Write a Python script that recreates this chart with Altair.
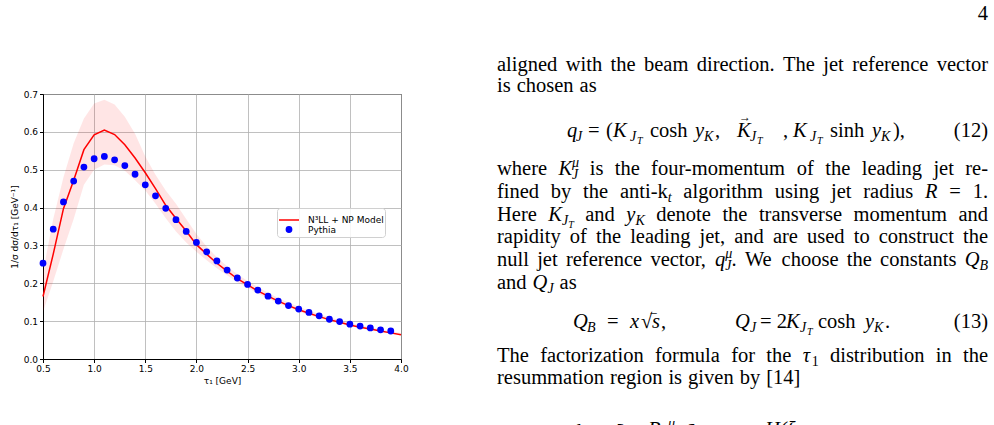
import altair as alt
import pandas as pd

# ---------------------------------------------------------------- data
tau_pythia = [0.5, 0.6, 0.7, 0.8, 0.9, 1.0, 1.1, 1.2, 1.3, 1.4, 1.5, 1.6, 1.7,
              1.8, 1.9, 2.0, 2.1, 2.2, 2.3, 2.4, 2.5, 2.6, 2.7, 2.8, 2.9, 3.0,
              3.1, 3.2, 3.3, 3.4, 3.5, 3.6, 3.7, 3.8, 3.9]
pythia = [0.253, 0.343, 0.415, 0.470, 0.507, 0.529, 0.535, 0.526, 0.511, 0.488,
          0.460, 0.431, 0.398, 0.368, 0.337, 0.308, 0.283, 0.259, 0.235, 0.214,
          0.197, 0.182, 0.166, 0.153, 0.141, 0.132, 0.123, 0.114, 0.105, 0.099,
          0.092, 0.087, 0.082, 0.077, 0.074]

tau_model = [0.5, 0.6, 0.7, 0.8, 0.9, 1.0, 1.1, 1.2, 1.3, 1.4, 1.5, 1.6, 1.7,
             1.8, 1.9, 2.0, 2.1, 2.2, 2.3, 2.4, 2.5, 2.6, 2.7, 2.8, 2.9, 3.0,
             3.1, 3.2, 3.3, 3.4, 3.5, 3.6, 3.7, 3.8, 3.9, 4.0]
model = [0.165, 0.277, 0.397, 0.472, 0.553, 0.592, 0.605, 0.593, 0.566, 0.531,
         0.492, 0.450, 0.406, 0.371, 0.338, 0.302, 0.277, 0.253, 0.232, 0.212,
         0.196, 0.180, 0.166, 0.153, 0.141, 0.130, 0.121, 0.112, 0.104, 0.097,
         0.090, 0.084, 0.079, 0.074, 0.069, 0.064]
model_hi = [0.230, 0.370, 0.480, 0.570, 0.635, 0.675, 0.685, 0.672, 0.640, 0.595,
            0.535, 0.487, 0.445, 0.410, 0.370, 0.330, 0.297, 0.269, 0.245, 0.224,
            0.206, 0.190, 0.175, 0.161, 0.149, 0.138, 0.128, 0.119, 0.110, 0.103,
            0.096, 0.089, 0.084, 0.078, 0.073, 0.069]
model_lo = [0.125, 0.205, 0.290, 0.370, 0.460, 0.500, 0.514, 0.512, 0.497, 0.472,
            0.445, 0.410, 0.372, 0.337, 0.308, 0.283, 0.261, 0.240, 0.221, 0.203,
            0.188, 0.173, 0.160, 0.147, 0.136, 0.125, 0.116, 0.108, 0.100, 0.093,
            0.087, 0.081, 0.076, 0.071, 0.066, 0.062]

MODEL = "N³LL + NP Model"
PYTHIA = "Pythia"
x_ticks = [0.5, 1.0, 1.5, 2.0, 2.5, 3.0, 3.5, 4.0]
y_ticks = [0.0, 0.1, 0.2, 0.3, 0.4, 0.5, 0.6, 0.7]

df_model = pd.DataFrame({"tau": tau_model, "val": model, "lo": model_lo,
                         "hi": model_hi, "series": MODEL})
df_pythia = pd.DataFrame({"tau": tau_pythia, "val": pythia, "series": PYTHIA})

# ---------------------------------------------------------------- plot
PLOT_L, PLOT_T, PLOT_W, PLOT_H = 43, 94, 358, 265
SANS = "DejaVu Sans"

xs = alt.Scale(domain=[0.5, 4.0], nice=False, zero=False)
ys = alt.Scale(domain=[0.0, 0.7], nice=False, zero=False)
common_axis = dict(format=".1f", titleFontWeight="normal", titleFontSize=9,
                   titleFont=SANS, titleColor="black", labelFontSize=9,
                   labelFont=SANS, labelColor="black", labelPadding=2,
                   tickSize=3.5, tickColor="black", domainColor="black",
                   grid=True, gridColor="#b0b0b0", gridWidth=0.8,
                   labelFlush=False, labelOverlap=False)
x_axis = alt.Axis(values=x_ticks, tickCount=len(x_ticks), title="τ₁ [GeV]",
                  titlePadding=3, **common_axis)
y_axis = alt.Axis(values=y_ticks, tickCount=len(y_ticks),
                  title="1/σ dσ/dτ₁ [GeV⁻¹]", titlePadding=4, **common_axis)

series_dom = [MODEL, PYTHIA]
legend = alt.Legend(title=None, orient="none", legendX=234, legendY=114,
                    fillColor="rgba(255,255,255,0.85)", strokeColor="#d0d0d0",
                    cornerRadius=3, padding=1, rowPadding=-5, labelOffset=8,
                    labelFontSize=9, labelFont=SANS, labelColor="black",
                    symbolStrokeWidth=1.5)
color_scale = alt.Scale(domain=series_dom, range=["#ff0000", "#0000ff"])

X = alt.X("tau:Q", scale=xs, axis=x_axis)

band = alt.Chart(df_model).mark_area(color="red", opacity=0.1).encode(
    x=X,
    y=alt.Y("lo:Q", scale=ys, axis=y_axis),
    y2="hi:Q",
)
line = alt.Chart(df_model).mark_line(strokeWidth=1.5).encode(
    x=X,
    y=alt.Y("val:Q", scale=ys, axis=y_axis),
    color=alt.Color("series:N", scale=color_scale, legend=legend),
)
points = alt.Chart(df_pythia).mark_point(filled=False, strokeWidth=1.5,
                                         opacity=1).encode(
    x=X,
    y=alt.Y("val:Q", scale=ys, axis=y_axis),
    color=alt.Color("series:N", scale=color_scale, legend=legend),
    fill=alt.Fill("series:N", scale=color_scale, legend=legend),
    shape=alt.Shape("series:N", scale=alt.Scale(domain=series_dom,
                                                range=["stroke", "circle"]),
                    legend=legend),
    size=alt.Size("series:N", scale=alt.Scale(domain=series_dom,
                                              range=[400, 28]),
                  legend=legend),
)

# ---------------------------------------------------------------- page text
SERIF = "Liberation Serif"
BODY = 20.5
LEFT, RIGHT = 497, 988

# piece styles: font size, italic, baseline shift, advances the cursor
STYLES = {
    "r":   (BODY, False, 0, True),
    "i":   (BODY, True, 0, True),
    "sub": (14, True, 4, True),
    "subr": (14, False, 4, True),
    "sup": (14, True, -8, False),
    "ss":  (10, True, 7, True),
    "arr": (12, False, -16, False),
    "bar": (16, False, -1, False),
    "big": (24, False, 2, True),
}

# Times-compatible advance widths (per 1000 em) used to lay out words
W_ROMAN = dict(zip("abcdefghijklmnopqrstuvwxyz",
                   [444, 500, 444, 500, 444, 333, 500, 500, 278, 278, 500, 278,
                    778, 500, 500, 500, 500, 333, 389, 278, 500, 500, 722, 500,
                    500, 444]))
W_ROMAN.update(dict(zip("ABCDEFGHIJKLMNOPQRSTUVWXYZ",
                        [722, 667, 667, 722, 611, 556, 722, 722, 333, 389, 722,
                         611, 889, 722, 722, 556, 722, 667, 556, 611, 722, 722,
                         944, 722, 722, 611])))
W_ROMAN.update({" ": 250, ",": 250, ".": 250, "-": 333, "=": 564, "(": 333,
                ")": 333, "[": 333, "]": 333, "√": 550, "μ": 500, "τ": 440,
                "σ": 540, "ξ": 440})
W_ROMAN.update({d: 500 for d in "0123456789"})
W_ITALIC = dict(W_ROMAN)
W_ITALIC.update({"K": 667, "J": 444, "T": 556, "Q": 722, "B": 611, "R": 611,
                 "H": 722, "q": 500, "y": 444, "x": 444, "s": 389, "t": 278,
                 "k": 444, "d": 500})


def width(text, style):
    size, italic, _, adv = STYLES[style]
    if not adv:
        return 0.0
    table = W_ITALIC if italic else W_ROMAN
    return sum(table.get(c, 500) for c in text) * size / 1000.0


def word_width(word):
    return sum(width(t, s) for s, t in word)


def as_word(w):
    return [("r", w)] if isinstance(w, str) else w


def set_line(words, y, justify, pieces, space=6.0):
    words = [as_word(w) for w in words]
    total = sum(word_width(w) for w in words)
    gap = (RIGHT - LEFT - total) / (len(words) - 1) if justify else space
    x = LEFT
    for w in words:
        for style, text in w:
            pieces.append((text, x, y, style))
            x += width(text, style)
        x += gap


def I(t):
    return ("i", t)


def R(t):
    return ("r", t)


def Sb(t):
    return ("sub", t)


def Sr(t):
    return ("subr", t)


def Sp(t):
    return ("sup", t)


def Ss(t):
    return ("ss", t)


paragraph_lines = [
    ("aligned with the beam direction. The jet reference vector".split(), 71, True),
    ("is chosen as".split(), 92, False),
    (["where", [I("K"), Sp("μ"), Sb("J")]]
     + "is the four-momentum of the leading jet re-".split(), 175, True),
    (["fined", "by", "the", [R("anti-k"), Sb("t")], "algorithm", "using",
      "jet", "radius", [I("R")], "=", "1."], 198, True),
    (["Here", [I("K"), Sb("J"), Ss("T")], "and", [I("y"), Sb("K")]]
     + "denote the transverse momentum and".split(), 221, True),
    ("rapidity of the leading jet, and are used to construct the".split(), 243, True),
    ("null jet reference vector,".split()
     + [[I("q"), Sp("μ"), Sb("J"), R(".")]]
     + "We choose the constants".split() + [[I("Q"), Sb("B")]], 266, True),
    (["and", [I("Q"), Sb("J")], "as"], 289, False),
    ("The factorization formula for the".split() + [[I("τ"), Sr("1")]]
     + "distribution in the".split(), 362, True),
    ("resummation region is given by [14]".split(), 384, False),
]

pieces = []
for words, y, justify in paragraph_lines:
    set_line(words, y, justify, pieces)

# displayed equations: (text, x, baseline, style)
pieces += [
    ("q", 567, 137, "i"), ("J", 576, 137, "sub"), ("=", 588, 137, "r"),
    ("(", 606, 137, "r"),
    ("K", 613, 137, "i"), ("J", 630, 137, "sub"), ("T", 637, 137, "ss"),
    ("cosh", 650, 137, "r"), ("y", 695, 137, "i"), ("K", 704, 137, "sub"),
    (",", 715, 137, "r"), ("K", 737, 137, "i"), ("→", 739, 137, "arr"),
    ("J", 750, 137, "sub"), ("T", 757, 137, "ss"), (",", 783, 137, "r"),
    ("K", 793, 137, "i"), ("J", 810, 137, "sub"), ("T", 817, 137, "ss"),
    ("sinh", 830, 137, "r"), ("y", 872, 137, "i"), ("K", 881, 137, "sub"),
    ("),", 893, 137, "r"),
    ("Q", 573, 328, "i"), ("B", 587, 328, "sub"), ("=", 607, 328, "r"),
    ("x", 630, 328, "i"), ("√", 641, 328, "r"), ("s", 652, 328, "i"),
    ("‾", 651, 328, "bar"),
    (",", 661, 328, "r"), ("Q", 735, 328, "i"), ("J", 750, 328, "sub"),
    ("= 2", 760, 328, "r"), ("K", 786, 328, "i"), ("J", 800, 328, "sub"),
    ("T", 807, 328, "ss"), ("cosh", 818, 328, "r"), ("y", 865, 328, "i"),
    ("K", 874, 328, "sub"), (".", 885, 328, "r"),
    # first line of the following equation, cut by the page edge
    ("dσ", 570, 438, "i"), ("[", 616, 438, "big"), ("B", 648, 436, "i"),
    ("μ", 668, 436, "sup"), ("]", 688, 438, "big"), ("H(ξ, μ, μ", 765, 436, "i"),
]

right_aligned = [("4", 988, 20), ("(12)", 988, 137), ("(13)", 988, 328)]

text_layers = []
for style, (size, italic, dy, _) in STYLES.items():
    rows = [(t, x - PLOT_L, y + dy - PLOT_T) for t, x, y, s in pieces if s == style]
    if not rows:
        continue
    df = pd.DataFrame(rows, columns=["t", "px", "py"])
    mk = dict(font=SERIF, fontSize=size, align="left", baseline="alphabetic",
              color="black")
    if italic:
        mk["fontStyle"] = "italic"
    text_layers.append(alt.Chart(df).mark_text(**mk).encode(
        text="t:N",
        x=alt.X("px:Q", scale=None, axis=None),
        y=alt.Y("py:Q", scale=None, axis=None),
    ))

df_right = pd.DataFrame([(t, x - PLOT_L, y - PLOT_T) for t, x, y in right_aligned],
                        columns=["t", "px", "py"])
text_layers.append(alt.Chart(df_right).mark_text(
    font=SERIF, fontSize=BODY, align="right", baseline="alphabetic",
    color="black").encode(
    text="t:N",
    x=alt.X("px:Q", scale=None, axis=None),
    y=alt.Y("py:Q", scale=None, axis=None),
))

chart = alt.layer(band, line, points, *text_layers).properties(
    width=PLOT_W,
    height=PLOT_H,
    autosize=alt.AutoSizeParams(type="none"),
    padding={"left": PLOT_L, "top": PLOT_T, "right": 994 - PLOT_L - PLOT_W,
             "bottom": 425 - PLOT_T - PLOT_H},
    background="white",
).configure_view(stroke="black", strokeWidth=1)

chart.save("out.html", embed_options={"renderer": "svg", "actions": False})
